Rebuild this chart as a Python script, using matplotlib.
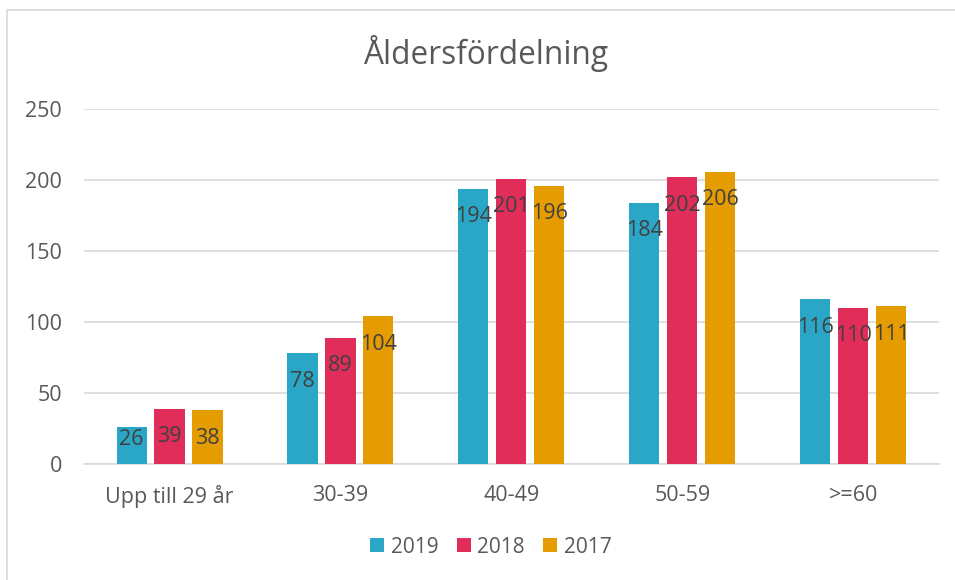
import numpy as np
import matplotlib.pyplot as plt
from matplotlib.patches import Rectangle

categories = ['Upp till 29 år', '30-39', '40-49', '50-59', '>=60']
years = ['2019', '2018', '2017']
v2019 = [26, 78, 194, 184, 116]
v2018 = [39, 89, 201, 202, 110]
v2017 = [38, 104, 196, 206, 111]
colors = ['#2AA6C6', '#E12D5A', '#E59C00']

plt.rcParams['font.family'] = ['Open Sans', 'DejaVu Sans']
text_col = '#595959'

fig = plt.figure(figsize=(9.55, 5.8), dpi=100)
ax = fig.add_axes([0.088, 0.2, 0.895, 0.612])

# outer chart frame (runs off the right and bottom edges)
fig.patches.append(Rectangle((7 / 955, -0.1), 1.2, 1.1 - 10 / 580, transform=fig.transFigure,
                             fill=False, edgecolor='#D9D9D9', linewidth=1.2))

x = np.arange(len(categories))
w = 0.176
step = 0.222
for i, (vals, lab) in enumerate(zip([v2019, v2018, v2017], years)):
    pos = x + (i - 1) * step
    ax.bar(pos, vals, width=w, color=colors[i], label=lab, zorder=3)
    for p, v in zip(pos, vals):
        # label sits inside the bar end, kept above the baseline for short bars
        ax.text(p, max(v - 19.7, 17), str(v), ha='center', va='center', fontsize=15.5,
                color='#404040', zorder=4)

ax.set_xlim(-0.5, len(categories) - 0.5)
ax.set_ylim(0, 250)
ax.set_yticks(range(0, 251, 50))
ax.set_xticks(x)
ax.set_xticklabels(categories)
ax.grid(axis='y', color='#D9D9D9', linewidth=1.2, zorder=0)
for s in ['top', 'right', 'left']:
    ax.spines[s].set_visible(False)
ax.spines['bottom'].set_color('#D9D9D9')
ax.spines['bottom'].set_linewidth(1.2)
ax.tick_params(axis='both', length=0, labelsize=15.5, labelcolor=text_col)
ax.tick_params(axis='x', pad=15)
ax.tick_params(axis='y', pad=16)

fig.text(486 / 955, 1 - 53 / 580, 'Åldersfördelning', ha='center', va='center',
         fontsize=22.8, color=text_col)

ax.legend(loc='center', bbox_to_anchor=(0.476, -0.234), ncol=3, frameon=False, fontsize=15,
          handlelength=0.67, handleheight=0.67, handletextpad=0.3, columnspacing=0.9,
          labelcolor=text_col)

fig.savefig('out.png', dpi=100, facecolor='white')
